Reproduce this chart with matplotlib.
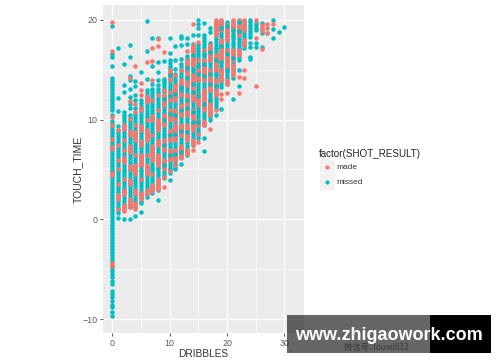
import matplotlib
matplotlib.use("Agg")
import matplotlib.pyplot as plt
from matplotlib.patches import Rectangle
from matplotlib.lines import Line2D

W, H = 500, 362
RED = "#F8766D"
TEAL = "#00BFC4"

missed_00 = [-9.7,-9.3,-8.8,-8.6,-8.2,-7.8,-7.5,-7.2,-6.5,-6.2,-5.8,-5.5,-5.2,-4.9,-4.6,-4.2,-3.9,-3.6,-3.3,-3,-2.7,-2.4,-2.1,-1.8,-1.5,-1.2,-0.9,-0.6,-0.3,0,0.3,0.6,0.9,1.2,1.5,1.8,2.1,2.4,2.7,3,3.3,3.6,3.9,4.2,4.5,4.8,5.1,5.4,5.7,6,6.3,6.6,6.9,7.2,7.5,7.8,8.1,8.4,8.7,9,9.3,9.6,9.9,10.5,11,11.3,11.6,11.9,12.1,12.4,12.7,13,13.3,13.6,13.9,14.2,15.4,16.3,16.6,19.4]
made_00 = [-4.7,-4.4,4.4,4.6,7.1,7.3,8.1,9.5,10.3,16.9,19.8]
missed_01 = [0.1,0.6,0.9,1.2,1.5,1.8,2.1,2.4,2.7,3,3.3,3.6,3.9,4.2,4.5,4.8,5.1,5.4,5.7,6,6.3,6.6,6.9,7.2,7.5,7.8,8.1,8.4,8.7,9,9.4,10.9,12.2,17.2]
made_01 = [1,2,2.2,2.4,3.5,5,6,7.5,9]
missed_02 = [0,1.2,1.5,1.8,2.1,2.4,2.7,3,3.3,3.6,3.9,4.2,4.5,4.8,5.1,5.4,5.7,6,6.3,6.6,6.9,7.2,7.5,7.8,8.1,8.4,8.7,9,9.3,9.6,9.9,10.2,10.5,10.8,12.8,13.5,15.6]
made_02 = [0.8,1,1.2,1.4,2.5,2.7,2.9,4,5.8,6,6.2,7,8,9.1,9.3,9.5]
missed_03 = [0,1.2,1.5,1.8,2.1,2.4,2.7,3,3.3,3.6,3.9,4.2,4.5,4.8,5.1,5.4,5.7,6,6.3,6.6,6.9,7.2,7.5,7.8,8.1,8.4,8.7,9,9.3,9.6,9.9,10.2,10.5,11.2,11.6,12.3,13.1,14,14.4,16.3,17.5]
made_03 = [1.2,1.4,1.6,1.8,2,3.5,3.7,3.9,5,5.2,5.4,6.8,7,7.2,7.4,8.5,8.7,8.9,10.1,11.9,14.2]
missed_04 = [0.35,1.2,1.5,1.8,2.1,2.4,2.7,3,3.3,3.6,3.9,4.2,4.5,4.8,5.1,5.4,5.7,6,6.3,6.6,6.9,7.2,7.5,7.8,8.1,8.4,8.7,9,9.3,9.6,9.9,10.2,10.5,10.8,11.2,12,12.5,13.4,13.9]
made_04 = [1,1.2,1.4,1.6,2.5,2.7,2.9,4.5,4.7,4.9,5.1,5.3,5.5,6.5,8,8.2,8.4,8.6,8.8,9.5,10.8,11.6,15.4]
missed_05 = [0.7,1.6,1.8,2.1,2.4,2.7,3,3.3,3.6,3.9,4.2,4.5,4.8,5.1,5.4,5.7,6,6.3,6.6,6.9,7.2,7.5,7.8,8.1,8.4,8.7,9,9.3,9.6,9.9,10.2,10.5,10.8,11.1,11.4,11.7,12,14.8]
made_05 = [2,2.2,2.4,2.6,4,5.5,5.7,5.9,6.1,6.3,6.5,7.5,7.7,7.9,9,9.2,9.4,11,11.2,12.5,13,13.7]
missed_06 = [2.2,2.5,2.8,3.1,3.4,3.7,4,4.3,4.6,4.9,5.2,5.5,5.8,6.1,6.4,6.7,7,7.3,7.6,7.9,8.2,8.5,8.8,9.1,9.4,9.7,10,10.3,10.6,10.9,11.2,11.5,11.8,12.1,12.4,12.7,13,14.1,16.9,19.9]
made_06 = [2.5,2.7,2.9,4.5,4.7,4.9,5.1,5.3,5.5,6.5,8,8.2,8.4,8.6,8.8,9,10,11.8,12,12.2,12.4,15.8]
missed_07 = [2.6,2.9,3.2,3.5,3.8,4.1,4.4,4.7,5,5.3,5.6,5.9,6.2,6.5,6.8,7.1,7.4,7.7,8,8.3,8.6,8.9,9.2,9.5,9.8,10.1,10.4,10.7,11,11.3,11.6,11.9,12.2,12.5,12.8,13.1,13.6,15.4,18.2]
made_07 = [2.8,3,3.2,3.4,4.5,6,6.2,6.4,6.6,6.8,7,7.2,7.4,8.5,10,10.2,10.4,12,14,15.9,17.2]
missed_08 = [1.9,2.9,3.2,3.5,3.8,4.1,4.4,4.7,5,5.3,5.6,5.9,6.2,6.5,6.8,7.1,7.4,7.7,8,8.3,8.6,8.9,9.2,9.5,9.8,10.1,10.4,10.7,11,11.3,11.6,11.9,12.2,12.5,12.8,13.1,13.5,14,14.8,15.8,18.2]
made_08 = [3,3.2,3.4,3.6,3.8,4,5.5,5.7,5.9,6.1,6.3,6.5,7.5,7.7,7.9,9,9.2,9.4,9.6,9.8,10,11,12.5,17.4,18.1]
missed_09 = [4.1,4.4,4.7,5,5.3,5.6,5.9,6.2,6.5,6.8,7.1,7.4,7.7,8,8.3,8.6,8.9,9.2,9.5,9.8,10.1,10.4,10.7,11,11.3,11.6,11.9,12.2,12.5,12.8,13.1,13.4,13.7,13.9,14.1,15.9]
made_09 = [3.2,4.2,5,5.2,5.4,5.6,5.8,6,7,7.2,7.4,7.6,7.8,8,9.5,9.7,9.9,10.1,10.3,10.5,11.5,11.7,11.9,12.1,12.3,12.5,13,16.8]
missed_10 = [3.9,4.6,4.9,5.2,5.5,5.8,6.1,6.4,6.7,7,7.3,7.6,7.9,8.2,8.5,8.8,9.1,9.4,9.7,10,10.3,10.6,10.9,11.2,11.5,11.8,12.1,12.4,12.7,13,13.3,13.6,13.9,14.2,14.5,14.8,15.1,15.4,15.7,16,16.7,18.2]
made_10 = [4.8,6,6.2,6.4,6.6,6.8,7,8,8.2,8.4,8.6,8.8,9,10,10.2,10.4,10.6,10.8,11,12,12.2,12.4,12.6,12.8,14,14.2,14.4,14.6,14.8,15]
missed_11 = [5,5.3,5.6,5.9,6.2,6.5,6.8,7.1,7.4,7.7,8,8.3,8.6,8.9,9.2,9.5,9.8,10.1,10.4,10.7,11,11.3,11.6,11.9,12.2,12.5,12.8,13.1,13.4,13.7,14,14.3,14.6,15.1,16,17.4]
made_11 = [5.5,6,6.2,6.4,6.6,6.8,7,8,8.2,8.4,8.6,8.8,9,9.2,9.5,10,10.2,10.4,10.6,10.8,11,12,12.2,12.4,12.6,12.8,13,13.2,13.5,14.5]
missed_12 = [5.6,6.3,6.6,6.9,7.2,7.5,7.8,8.1,8.4,8.7,9,9.3,9.6,9.9,10.2,10.5,10.8,11.1,11.4,11.7,12,12.3,12.6,12.9,13.2,13.5,13.8,14.1,14.4,14.7,15,15.3,15.6,16.1,17.5,18.2,18.4]
made_12 = [6.2,6.4,6.6,6.8,7,7.2,7.4,8.5,8.7,8.9,9.1,9.3,9.5,10.5,10.7,10.9,11.1,11.3,11.5,12.5,12.7,12.9,13.1,13.3,13.5,13.7,14,15]
missed_13 = [6.5,6.8,7.1,7.4,7.7,8,8.3,8.6,8.9,9.2,9.5,9.8,10.1,10.4,10.7,11,11.3,11.6,11.9,12.2,12.5,12.8,13.1,13.4,13.7,14,14.3,14.6,14.9,15.2,15.5,15.8,16.1,16.4,17.6,18.2]
made_13 = [6.6,6.8,7,8,8.2,8.4,8.6,8.8,9,9.2,9.5,10.5,10.7,10.9,11.1,11.3,11.5,11.7,11.9,12.1,12.3,12.5,13.5,13.7,13.9,14.1,14.3,14.5,14.7,14.9,15.1,15.3,15.5,15.7,16,16.9]
missed_14 = [7.5,7.8,8.1,8.4,8.7,9,9.3,9.6,9.9,10.2,10.5,10.8,11.1,11.4,11.7,12,12.3,12.6,12.9,13.2,13.5,13.8,14.1,14.4,14.7,15,15.3,15.6,15.9,16.2,16.5,16.8,17.1,17.4,17.6,18.5]
made_14 = [7,7.5,7.7,8,9,9.2,9.4,9.6,9.8,10,10.2,10.4,10.6,10.8,11,12,12.2,12.4,12.6,12.8,13,13.2,13.4,13.6,13.8,14,14.2,14.5,15.5,15.7,15.9,16.1,16.3,16.5,16.7,16.9,17.1,17.3,17.5,19.6]
missed_15 = [8.2,8.5,8.8,9.1,9.4,9.7,10,10.3,10.6,10.9,11.2,11.5,11.8,12.1,12.4,12.7,13,13.3,13.6,13.9,14.2,14.5,14.8,15.1,15.4,15.7,16,16.3,16.6,16.9,17.2,17.5,18.5,19.2,19.6,20]
made_15 = [7.8,8.6,9.5,9.7,9.9,11.5,11.7,11.9,12.1,12.3,12.5,14,14.2,14.4,14.6,14.8,15,16,17.8]
missed_16 = [6.9,8.2,9.5,9.8,10.1,10.4,10.7,11,11.3,11.6,11.9,12.2,12.5,12.8,13.1,13.4,13.7,14,14.3,14.6,14.9,15.2,15.5,15.8,16.1,16.4,16.7,17,17.3,17.6,17.9,18.2,18.5,19.7]
made_16 = [9.5,9.7,9.9,11,11.2,11.4,11.6,11.8,12,12.2,12.4,12.6,12.8,13,14,14.2,14.4,14.6,14.8,15,15.2,15.4,15.6,15.8,16,17]
missed_17 = [10,10.3,10.6,10.9,11.2,11.5,11.8,12.1,12.4,12.7,13,13.3,13.6,13.9,14.2,14.5,14.8,15.1,15.4,15.7,16,16.3,16.6,16.9,17.2,17.5,17.7,18.8,19.2]
made_17 = [9.1,10.5,10.7,10.9,11.1,11.3,11.5,11.7,12,13,13.2,13.4,13.6,13.8,14,14.2,14.4,14.6,14.8,15,16,16.2,16.4,16.6,16.8,17,17.2,17.5]
missed_18 = [10.5,11.2,11.5,11.8,12.1,12.4,12.7,13,13.3,13.6,13.9,14.2,14.5,14.8,15.1,15.4,15.7,16,16.3,16.6,16.9,17.2,17.5,17.8,18.1,18.4,18.7,19,19.3,19.6,19.9]
made_18 = [11,12.5,12.7,12.9,13.1,13.3,13.5,13.7,14,15,15.2,15.4,15.6,15.8,16,16.2,16.5,18.5,18.7,18.9,19.1,19.3,19.5,19.7,20]
missed_19 = [11.1,13.3,13.6,13.9,14.2,14.5,14.8,15.1,15.4,15.7,16,16.3,16.6,16.9,17.2,17.5,17.8,18.1,18.4,18.7,19,19.3,19.6,19.9]
made_19 = [12.1,12.6,14,14.2,14.4,14.6,14.8,15,16,16.2,16.4,16.6,16.8,17,17.2,17.4,17.6,17.8,18,19,19.2,19.4,19.6,19.8,20]
missed_20 = [13.6,13.9,14.2,14.5,14.8,15.1,15.4,15.7,16,16.3,16.6,16.9,17.2,17.5,17.8,18.1,18.4,18.7,19,19.3,19.6,19.8]
made_20 = [12.7,13.6,13.8,14,15,15.2,15.4,15.6,15.8,16,16.2,16.4,16.6,16.8,17,18,18.2,18.4,18.6,18.8,19,19.2,19.5]
missed_21 = [12.1,14.2,14.5,14.8,15.1,15.4,15.7,16,16.3,16.6,16.9,17.2,17.5,17.8,18.1,18.4,18.7,19,19.3,19.6,19.9]
made_21 = [14.5,14.7,15,15.2,15.5,16,16.2,16.4,16.6,16.8,17,19,19.2,19.4,19.6,19.8,20]
missed_22 = [13.4,15,16,16.3,16.6,16.9,17.2,17.5,17.8,18.1,18.4,18.7,19,19.3,19.6,19.9]
made_22 = [12.7,14.3,16.5,16.7,17,18.5,18.7,18.9,19.1,19.3,19.5,19.7,20]
missed_23 = [17.2,17.5,17.8,18.1,18.4,18.7,19,19.3,19.6,19.9]
made_23 = [14.2,15,17.5,17.7,18,19,19.2,19.4,19.6,19.8,20]
missed_24 = [16.1,16.3,17.3,17.7,18.3,18.6,18.9,19.2,19.5,19.8,20]
made_24 = []
missed_25 = [17.3,17.7,19,19.2,19.5,19.7]
made_25 = [13.4,18.2,20]
missed_26 = [17.3,18.7,19,19.7]
made_26 = [17.1,18.9,19.2,19.5]
missed_27 = [18.7]
made_27 = [18.7,19.2,19.6]
missed_28 = [18.2,19.1,20]
made_28 = [19.6]
missed_29 = [18.8]
made_29 = []
missed_30 = [19.3]
made_30 = []

# missed shots that sit on top of made ones, breaking up the long red runs
over_dribbles = [9, 10, 11, 12, 13, 14, 15, 16, 17, 18, 19, 20, 21, 22]
over_00 = [5.5, 7.5, 10, 12.1]
over_01 = [6.5, 8.5, 10.6, 12.4, 14.5]
over_02 = [6.6, 8.6, 10.5, 12.6]
over_03 = [6.8, 8.9, 11, 13, 13.3]
over_04 = [8.8, 11.2, 12, 14.2, 15.2]
over_05 = [9.8, 10.8, 12.8, 13.6, 15, 16.5]
over_06 = [9.8, 12.4, 14.6, 15.4]
over_07 = [11.6, 14.4, 15.6, 16.6]
over_08 = [12, 13.6, 14.6, 16.8]
over_09 = [13.4, 14.6, 16, 17.2]
over_10 = [15.8, 17.4, 19.2]
over_11 = [15, 16.6, 19.4]
over_12 = [16.2, 18.4, 19]
over_13 = [18.9, 19.8]
over_columns = [over_00, over_01, over_02, over_03, over_04, over_05, over_06,
                over_07, over_08, over_09, over_10, over_11, over_12, over_13]

dribbles = list(range(31))
missed_columns = [missed_00, missed_01, missed_02, missed_03, missed_04, missed_05, missed_06, missed_07,
                  missed_08, missed_09, missed_10, missed_11, missed_12, missed_13, missed_14, missed_15,
                  missed_16, missed_17, missed_18, missed_19, missed_20, missed_21, missed_22, missed_23,
                  missed_24, missed_25, missed_26, missed_27, missed_28, missed_29, missed_30]
made_columns = [made_00, made_01, made_02, made_03, made_04, made_05, made_06, made_07,
                made_08, made_09, made_10, made_11, made_12, made_13, made_14, made_15,
                made_16, made_17, made_18, made_19, made_20, made_21, made_22, made_23,
                made_24, made_25, made_26, made_27, made_28, made_29, made_30]

x_ticks = [0, 10, 20, 30]
y_ticks = [-10, 0, 10, 20]
x_minor = [5, 15, 25]
y_minor = [-5, 5, 15]
legend_labels = ["made", "missed"]

plt.rcParams["font.family"] = ["Liberation Sans", "DejaVu Sans"]
fig = plt.figure(figsize=(W / 100, H / 100), dpi=100, facecolor="white")

def box(l, t, r, b):
    return [l / W, 1 - b / H, (r - l) / W, (b - t) / H]

ax = fig.add_axes(box(103, 5, 304, 333), facecolor="#EBEBEB")
ax.set_xlim(-1.62, 33.4)
ax.set_ylim(-11.4, 21.5)
for s in ax.spines.values():
    s.set_visible(False)
ax.set_axisbelow(True)
ax.set_xticks(x_ticks)
ax.set_yticks(y_ticks)
ax.set_xticks(x_minor, minor=True)
ax.set_yticks(y_minor, minor=True)
ax.grid(True, which="major", color="white", lw=1.0)
ax.grid(True, which="minor", color="white", lw=0.5)
ax.tick_params(which="minor", length=0)
ax.tick_params(which="major", length=2.5, width=0.7, color="#555555",
               labelcolor="#5A5A5A", labelsize=6.4, pad=1.5)

SIZE = 10.5
xs = [d for d, c in zip(dribbles, missed_columns) for _ in c]
ys = [v for c in missed_columns for v in c]
ax.scatter(xs, ys, s=SIZE, color=TEAL, linewidths=0, zorder=3, label="missed")
xs = [d for d, c in zip(dribbles, made_columns) for _ in c]
ys = [v for c in made_columns for v in c]
ax.scatter(xs, ys, s=SIZE, color=RED, linewidths=0, zorder=4, label="made")
xs = [d for d, c in zip(over_dribbles, over_columns) for _ in c]
ys = [v for c in over_columns for v in c]
ax.scatter(xs, ys, s=SIZE, color=TEAL, linewidths=0, zorder=5)

fig.text(203 / W, 1 - 354 / H, "DRIBBLES", ha="center", va="center", fontsize=7.3, color="#333333")
fig.text(78 / W, 1 - 169 / H, "TOUCH_TIME", ha="center", va="center", rotation=90, fontsize=7.5, color="#333333")

# legend
fig.text(319 / W, 1 - 153.5 / H, "factor(SHOT_RESULT)", ha="left", va="center", fontsize=7.1, color="#222222")
for i, (lab, col) in enumerate(zip(legend_labels, [RED, TEAL])):
    top = 160 + i * 15
    fig.add_artist(Rectangle((320 / W, 1 - (top + 14.5) / H), 14.5 / W, 14.5 / H,
                             transform=fig.transFigure, fc="#F2F2F2", ec="none"))
    fig.add_artist(Line2D([327 / W], [1 - (top + 7.3) / H], marker="o", ms=3.0, mfc=col, mec="none",
                          transform=fig.transFigure, ls="none"))
    fig.text(336.5 / W, 1 - (top + 8) / H, lab, ha="left", va="center", fontsize=6.0, color="#333333")

# watermark band
fig.add_artist(Rectangle((287 / W, 1 - 353 / H), 143 / W, 38 / H, transform=fig.transFigure,
                         fc="black", alpha=0.6, ec="none", zorder=10))
fig.add_artist(Rectangle((430 / W, 1 - 353 / H), 61 / W, 38 / H, transform=fig.transFigure,
                         fc="black", ec="none", zorder=10))
fig.text(388.5 / W, 1 - 336 / H, "www.zhigaowork.com", ha="center", va="center", fontsize=13,
         fontweight="bold", color="white", zorder=11)
fig.text(376 / W, 1 - 347.5 / H, "微信号: louwill12", ha="center", va="center", fontsize=6.0,
         color="#3A3A3A", family=["Noto Sans CJK SC", "DejaVu Sans"], zorder=11)

fig.savefig("out.png", dpi=100, facecolor="white")
